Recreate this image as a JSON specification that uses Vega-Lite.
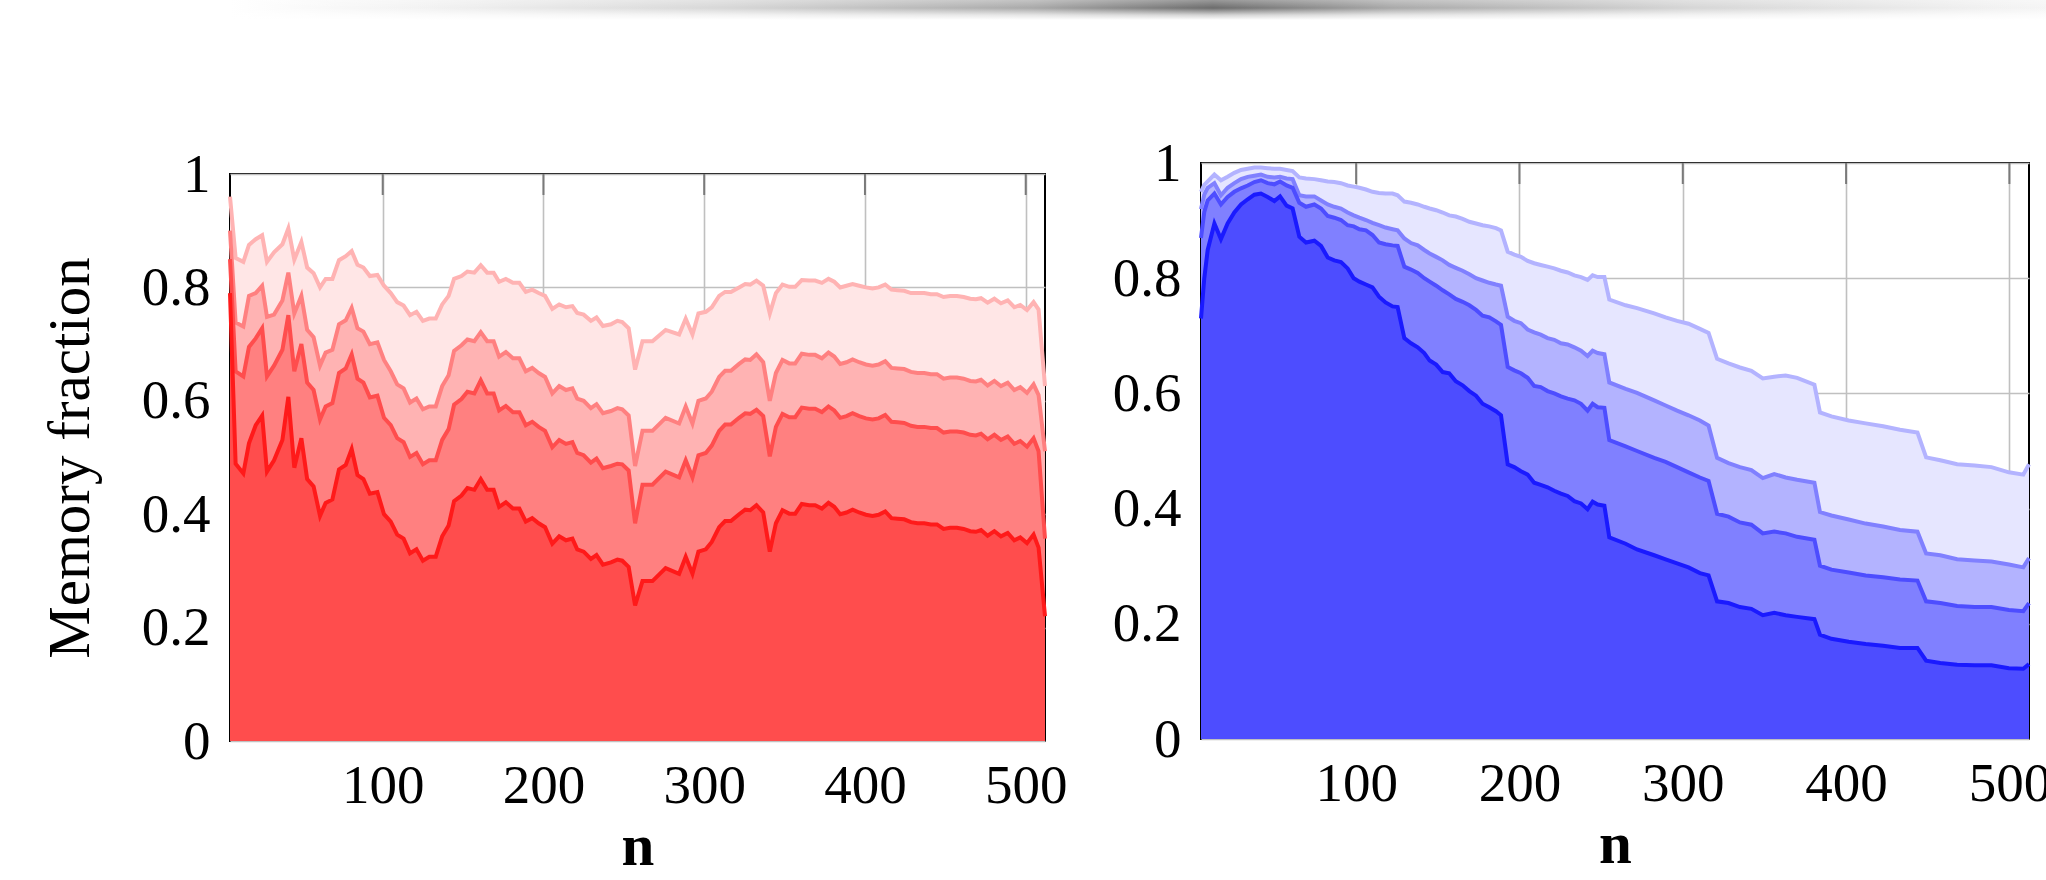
{
"$schema": "https://vega.github.io/schema/vega-lite/v6.json",
"padding": {"left": 40, "top": 0, "right": 0, "bottom": 0},
"background": "white",
"config": {
  "font": "Liberation Serif",
  "view": {"stroke": "#000000", "strokeWidth": 2},
  "axis": {"labelFont": "Liberation Serif", "labelFontSize": 55, "labelColor": "#000000", "titleFont": "Liberation Serif", "titleFontSize": 59, "titleColor": "#000000", "titleFontWeight": "normal", "gridColor": "#c0c0c0", "gridWidth": 1.6, "gridOpacity": 1, "domain": false, "ticks": false, "labelFlush": false, "labelOverlap": false},
  "axisX": {"labelPadding": 18, "titlePadding": 4, "titleFontWeight": "bold"},
  "axisY": {"labelPadding": 20, "titlePadding": 41}
},
"datasets": {
"xt": [{"t":100},{"t":200},{"t":300},{"t":400},{"t":500}],
"yt": [{"v":0.2},{"v":0.4},{"v":0.6},{"v":0.8}],
"red": [
{"n":5,"a":0.79,"b":0.85,"c":0.90,"d":0.96},
{"n":8.5,"a":0.489,"b":0.652,"c":0.738,"d":0.852},
{"n":13.3,"a":0.472,"b":0.643,"c":0.731,"d":0.845},
{"n":16.8,"a":0.525,"b":0.695,"c":0.785,"d":0.875},
{"n":21,"a":0.557,"b":0.71,"c":0.79,"d":0.885},
{"n":25,"a":0.574,"b":0.728,"c":0.803,"d":0.892},
{"n":28,"a":0.475,"b":0.643,"c":0.748,"d":0.845},
{"n":32.4,"a":0.495,"b":0.662,"c":0.752,"d":0.862},
{"n":37.6,"a":0.531,"b":0.69,"c":0.777,"d":0.876},
{"n":41.3,"a":0.607,"b":0.751,"c":0.826,"d":0.904},
{"n":45,"a":0.482,"b":0.652,"c":0.754,"d":0.849},
{"n":49.4,"a":0.534,"b":0.70,"c":0.785,"d":0.88},
{"n":53,"a":0.462,"b":0.632,"c":0.725,"d":0.835},
{"n":57,"a":0.449,"b":0.619,"c":0.712,"d":0.825},
{"n":61,"a":0.397,"b":0.567,"c":0.662,"d":0.80},
{"n":64.5,"a":0.42,"b":0.59,"c":0.685,"d":0.815},
{"n":68.7,"a":0.426,"b":0.596,"c":0.69,"d":0.815},
{"n":72.8,"a":0.479,"b":0.649,"c":0.735,"d":0.848},
{"n":77,"a":0.487,"b":0.657,"c":0.742,"d":0.855},
{"n":80.7,"a":0.515,"b":0.682,"c":0.764,"d":0.864},
{"n":84.3,"a":0.469,"b":0.639,"c":0.728,"d":0.84},
{"n":88,"a":0.462,"b":0.632,"c":0.722,"d":0.835},
{"n":92,"a":0.436,"b":0.606,"c":0.70,"d":0.82},
{"n":96.7,"a":0.439,"b":0.609,"c":0.703,"d":0.822},
{"n":100.8,"a":0.40,"b":0.57,"c":0.672,"d":0.803},
{"n":105,"a":0.387,"b":0.557,"c":0.652,"d":0.79},
{"n":109,"a":0.364,"b":0.534,"c":0.629,"d":0.774},
{"n":113,"a":0.357,"b":0.527,"c":0.622,"d":0.768},
{"n":117,"a":0.331,"b":0.501,"c":0.597,"d":0.751},
{"n":121,"a":0.338,"b":0.508,"c":0.604,"d":0.757},
{"n":125,"a":0.318,"b":0.488,"c":0.585,"d":0.741},
{"n":129,"a":0.325,"b":0.495,"c":0.59,"d":0.745},
{"n":133,"a":0.325,"b":0.495,"c":0.59,"d":0.745},
{"n":137,"a":0.361,"b":0.531,"c":0.626,"d":0.77},
{"n":141,"a":0.38,"b":0.55,"c":0.645,"d":0.785},
{"n":144.4,"a":0.423,"b":0.593,"c":0.688,"d":0.815},
{"n":149,"a":0.433,"b":0.603,"c":0.698,"d":0.82},
{"n":152.7,"a":0.446,"b":0.616,"c":0.708,"d":0.828},
{"n":157,"a":0.443,"b":0.613,"c":0.705,"d":0.826},
{"n":161,"a":0.462,"b":0.636,"c":0.721,"d":0.839},
{"n":165,"a":0.443,"b":0.613,"c":0.705,"d":0.826},
{"n":169,"a":0.443,"b":0.613,"c":0.705,"d":0.826},
{"n":172.4,"a":0.413,"b":0.583,"c":0.678,"d":0.81},
{"n":176.6,"a":0.421,"b":0.591,"c":0.686,"d":0.815},
{"n":181,"a":0.41,"b":0.58,"c":0.675,"d":0.808},
{"n":185,"a":0.41,"b":0.58,"c":0.675,"d":0.808},
{"n":189,"a":0.387,"b":0.557,"c":0.652,"d":0.792},
{"n":193,"a":0.393,"b":0.563,"c":0.658,"d":0.796},
{"n":197,"a":0.384,"b":0.554,"c":0.649,"d":0.79},
{"n":201,"a":0.377,"b":0.547,"c":0.642,"d":0.785},
{"n":205.5,"a":0.348,"b":0.518,"c":0.613,"d":0.762},
{"n":209.8,"a":0.361,"b":0.531,"c":0.626,"d":0.77},
{"n":214,"a":0.354,"b":0.524,"c":0.619,"d":0.765},
{"n":218,"a":0.357,"b":0.527,"c":0.622,"d":0.767},
{"n":221,"a":0.338,"b":0.508,"c":0.604,"d":0.755},
{"n":225,"a":0.334,"b":0.504,"c":0.60,"d":0.752},
{"n":229.5,"a":0.321,"b":0.491,"c":0.587,"d":0.741},
{"n":233,"a":0.328,"b":0.498,"c":0.594,"d":0.747},
{"n":237,"a":0.311,"b":0.481,"c":0.578,"d":0.732},
{"n":242,"a":0.315,"b":0.485,"c":0.582,"d":0.735},
{"n":246,"a":0.32,"b":0.489,"c":0.587,"d":0.741},
{"n":249,"a":0.318,"b":0.488,"c":0.585,"d":0.739},
{"n":253,"a":0.307,"b":0.477,"c":0.574,"d":0.728},
{"n":257,"a":0.239,"b":0.384,"c":0.485,"d":0.655},
{"n":261.6,"a":0.282,"b":0.452,"c":0.547,"d":0.705},
{"n":267.8,"a":0.282,"b":0.452,"c":0.547,"d":0.705},
{"n":276,"a":0.305,"b":0.475,"c":0.57,"d":0.725},
{"n":284.4,"a":0.295,"b":0.465,"c":0.56,"d":0.717},
{"n":288.5,"a":0.325,"b":0.495,"c":0.59,"d":0.745},
{"n":292.7,"a":0.295,"b":0.465,"c":0.56,"d":0.717},
{"n":296.4,"a":0.334,"b":0.504,"c":0.60,"d":0.754},
{"n":301,"a":0.338,"b":0.508,"c":0.604,"d":0.757},
{"n":304.7,"a":0.351,"b":0.521,"c":0.616,"d":0.765},
{"n":309.3,"a":0.377,"b":0.547,"c":0.642,"d":0.785},
{"n":313,"a":0.388,"b":0.558,"c":0.653,"d":0.792},
{"n":316.6,"a":0.388,"b":0.558,"c":0.653,"d":0.792},
{"n":321.7,"a":0.40,"b":0.57,"c":0.665,"d":0.80},
{"n":325.5,"a":0.408,"b":0.578,"c":0.673,"d":0.806},
{"n":328.6,"a":0.407,"b":0.577,"c":0.672,"d":0.805},
{"n":332.5,"a":0.416,"b":0.584,"c":0.682,"d":0.812},
{"n":336.7,"a":0.403,"b":0.573,"c":0.668,"d":0.803},
{"n":340.8,"a":0.334,"b":0.502,"c":0.60,"d":0.754},
{"n":344.6,"a":0.384,"b":0.554,"c":0.649,"d":0.79},
{"n":348.7,"a":0.407,"b":0.577,"c":0.672,"d":0.805},
{"n":352.9,"a":0.401,"b":0.571,"c":0.666,"d":0.801},
{"n":356.6,"a":0.401,"b":0.571,"c":0.666,"d":0.801},
{"n":360.7,"a":0.418,"b":0.588,"c":0.683,"d":0.813},
{"n":365.3,"a":0.416,"b":0.586,"c":0.681,"d":0.812},
{"n":369,"a":0.416,"b":0.586,"c":0.681,"d":0.812},
{"n":373.2,"a":0.41,"b":0.58,"c":0.675,"d":0.808},
{"n":377.3,"a":0.42,"b":0.59,"c":0.685,"d":0.815},
{"n":380.9,"a":0.413,"b":0.583,"c":0.678,"d":0.81},
{"n":384.6,"a":0.40,"b":0.57,"c":0.665,"d":0.80},
{"n":388.5,"a":0.403,"b":0.573,"c":0.668,"d":0.803},
{"n":392.3,"a":0.408,"b":0.578,"c":0.673,"d":0.806},
{"n":396.4,"a":0.403,"b":0.573,"c":0.668,"d":0.803},
{"n":400.6,"a":0.399,"b":0.569,"c":0.664,"d":0.80},
{"n":404.7,"a":0.397,"b":0.567,"c":0.662,"d":0.798},
{"n":408.5,"a":0.399,"b":0.569,"c":0.664,"d":0.80},
{"n":412.6,"a":0.405,"b":0.575,"c":0.67,"d":0.805},
{"n":416.5,"a":0.393,"b":0.563,"c":0.658,"d":0.796},
{"n":420.3,"a":0.392,"b":0.562,"c":0.657,"d":0.795},
{"n":424.4,"a":0.391,"b":0.561,"c":0.656,"d":0.794},
{"n":428.6,"a":0.386,"b":0.556,"c":0.651,"d":0.79},
{"n":432.7,"a":0.384,"b":0.554,"c":0.649,"d":0.79},
{"n":436.9,"a":0.384,"b":0.554,"c":0.649,"d":0.79},
{"n":441,"a":0.382,"b":0.552,"c":0.647,"d":0.788},
{"n":444.8,"a":0.382,"b":0.552,"c":0.647,"d":0.788},
{"n":448.9,"a":0.374,"b":0.544,"c":0.639,"d":0.783},
{"n":453,"a":0.376,"b":0.546,"c":0.641,"d":0.785},
{"n":457.2,"a":0.376,"b":0.546,"c":0.641,"d":0.785},
{"n":461.4,"a":0.374,"b":0.544,"c":0.639,"d":0.783},
{"n":465.5,"a":0.37,"b":0.54,"c":0.635,"d":0.78},
{"n":469,"a":0.369,"b":0.539,"c":0.634,"d":0.779},
{"n":472.2,"a":0.372,"b":0.542,"c":0.637,"d":0.781},
{"n":476.3,"a":0.362,"b":0.532,"c":0.627,"d":0.773},
{"n":480.5,"a":0.37,"b":0.54,"c":0.635,"d":0.78},
{"n":484.6,"a":0.361,"b":0.531,"c":0.626,"d":0.772},
{"n":488.8,"a":0.367,"b":0.537,"c":0.632,"d":0.777},
{"n":492.9,"a":0.354,"b":0.524,"c":0.619,"d":0.765},
{"n":496.6,"a":0.359,"b":0.529,"c":0.624,"d":0.769},
{"n":500.8,"a":0.349,"b":0.519,"c":0.614,"d":0.76},
{"n":504.9,"a":0.364,"b":0.534,"c":0.629,"d":0.774},
{"n":508,"a":0.341,"b":0.511,"c":0.61,"d":0.761},
{"n":512,"a":0.22,"b":0.357,"c":0.511,"d":0.626}
],
"blue": [
{"n":5,"a":0.73,"b":0.87,"c":0.92,"d":0.95},
{"n":7,"a":0.80,"b":0.915,"c":0.945,"d":0.962},
{"n":9.1,"a":0.849,"b":0.935,"c":0.957,"d":0.968},
{"n":13.2,"a":0.895,"b":0.947,"c":0.965,"d":0.98},
{"n":17.2,"a":0.868,"b":0.928,"c":0.944,"d":0.97},
{"n":21.3,"a":0.895,"b":0.941,"c":0.957,"d":0.976},
{"n":25.4,"a":0.914,"b":0.95,"c":0.965,"d":0.983},
{"n":29.5,"a":0.928,"b":0.956,"c":0.972,"d":0.988},
{"n":33.6,"a":0.937,"b":0.961,"c":0.976,"d":0.99},
{"n":37.7,"a":0.945,"b":0.967,"c":0.978,"d":0.992},
{"n":41.7,"a":0.947,"b":0.97,"c":0.98,"d":0.992},
{"n":45.8,"a":0.941,"b":0.965,"c":0.976,"d":0.991},
{"n":49.9,"a":0.934,"b":0.963,"c":0.975,"d":0.99},
{"n":53.4,"a":0.942,"b":0.968,"c":0.976,"d":0.99},
{"n":57.4,"a":0.926,"b":0.961,"c":0.973,"d":0.988},
{"n":61.1,"a":0.921,"b":0.957,"c":0.972,"d":0.986},
{"n":65.2,"a":0.872,"b":0.931,"c":0.944,"d":0.975},
{"n":69.3,"a":0.862,"b":0.924,"c":0.942,"d":0.973},
{"n":74.4,"a":0.865,"b":0.928,"c":0.942,"d":0.972},
{"n":78.5,"a":0.856,"b":0.921,"c":0.935,"d":0.97},
{"n":82.6,"a":0.836,"b":0.908,"c":0.928,"d":0.968},
{"n":86.6,"a":0.831,"b":0.905,"c":0.924,"d":0.967},
{"n":90.7,"a":0.828,"b":0.901,"c":0.921,"d":0.965},
{"n":94.8,"a":0.817,"b":0.892,"c":0.914,"d":0.961},
{"n":98.5,"a":0.80,"b":0.89,"c":0.909,"d":0.959},
{"n":102,"a":0.794,"b":0.885,"c":0.905,"d":0.957},
{"n":106,"a":0.789,"b":0.883,"c":0.901,"d":0.954},
{"n":110,"a":0.784,"b":0.875,"c":0.896,"d":0.95},
{"n":114,"a":0.768,"b":0.862,"c":0.892,"d":0.948},
{"n":118,"a":0.758,"b":0.859,"c":0.888,"d":0.947},
{"n":122.3,"a":0.751,"b":0.857,"c":0.885,"d":0.947},
{"n":125.4,"a":0.75,"b":0.856,"c":0.883,"d":0.944},
{"n":129.5,"a":0.696,"b":0.82,"c":0.869,"d":0.933},
{"n":133.6,"a":0.687,"b":0.815,"c":0.861,"d":0.931},
{"n":137.7,"a":0.68,"b":0.809,"c":0.857,"d":0.928},
{"n":141.7,"a":0.67,"b":0.80,"c":0.849,"d":0.924},
{"n":145,"a":0.657,"b":0.794,"c":0.843,"d":0.921},
{"n":149,"a":0.65,"b":0.787,"c":0.837,"d":0.918},
{"n":153,"a":0.637,"b":0.779,"c":0.831,"d":0.914},
{"n":157,"a":0.635,"b":0.772,"c":0.823,"d":0.909},
{"n":161,"a":0.621,"b":0.764,"c":0.818,"d":0.907},
{"n":165.2,"a":0.614,"b":0.759,"c":0.813,"d":0.903},
{"n":169.3,"a":0.604,"b":0.753,"c":0.807,"d":0.898},
{"n":173.4,"a":0.596,"b":0.745,"c":0.80,"d":0.895},
{"n":177.4,"a":0.582,"b":0.735,"c":0.796,"d":0.892},
{"n":181.5,"a":0.576,"b":0.732,"c":0.792,"d":0.89},
{"n":185.6,"a":0.569,"b":0.725,"c":0.789,"d":0.887},
{"n":188.7,"a":0.562,"b":0.719,"c":0.787,"d":0.883},
{"n":192.8,"a":0.477,"b":0.646,"c":0.733,"d":0.846},
{"n":196.8,"a":0.472,"b":0.64,"c":0.726,"d":0.841},
{"n":200.9,"a":0.465,"b":0.635,"c":0.722,"d":0.837},
{"n":205,"a":0.459,"b":0.627,"c":0.711,"d":0.83},
{"n":209,"a":0.445,"b":0.613,"c":0.706,"d":0.826},
{"n":213,"a":0.441,"b":0.611,"c":0.702,"d":0.823},
{"n":217.2,"a":0.437,"b":0.604,"c":0.696,"d":0.82},
{"n":221.3,"a":0.431,"b":0.60,"c":0.693,"d":0.817},
{"n":225.4,"a":0.426,"b":0.595,"c":0.687,"d":0.813},
{"n":229.5,"a":0.422,"b":0.591,"c":0.685,"d":0.81},
{"n":233.6,"a":0.413,"b":0.588,"c":0.68,"d":0.805},
{"n":237.7,"a":0.409,"b":0.582,"c":0.674,"d":0.802},
{"n":241.7,"a":0.399,"b":0.57,"c":0.665,"d":0.797},
{"n":244.8,"a":0.412,"b":0.582,"c":0.674,"d":0.805},
{"n":247.9,"a":0.407,"b":0.576,"c":0.67,"d":0.802},
{"n":252,"a":0.405,"b":0.575,"c":0.668,"d":0.802},
{"n":255,"a":0.35,"b":0.519,"c":0.619,"d":0.763},
{"n":265,"a":0.339,"b":0.508,"c":0.608,"d":0.753},
{"n":272,"a":0.329,"b":0.50,"c":0.601,"d":0.748},
{"n":282.5,"a":0.319,"b":0.488,"c":0.588,"d":0.739},
{"n":289.5,"a":0.312,"b":0.481,"c":0.579,"d":0.732},
{"n":296.5,"a":0.305,"b":0.472,"c":0.57,"d":0.726},
{"n":303.5,"a":0.298,"b":0.463,"c":0.562,"d":0.721},
{"n":310.5,"a":0.288,"b":0.454,"c":0.553,"d":0.712},
{"n":315.8,"a":0.284,"b":0.448,"c":0.544,"d":0.705},
{"n":321,"a":0.239,"b":0.391,"c":0.488,"d":0.66},
{"n":328,"a":0.236,"b":0.386,"c":0.479,"d":0.652},
{"n":335,"a":0.229,"b":0.376,"c":0.472,"d":0.645},
{"n":342,"a":0.226,"b":0.372,"c":0.467,"d":0.639},
{"n":349,"a":0.215,"b":0.357,"c":0.453,"d":0.626},
{"n":356,"a":0.219,"b":0.36,"c":0.46,"d":0.629},
{"n":363,"a":0.215,"b":0.357,"c":0.454,"d":0.631},
{"n":370,"a":0.212,"b":0.351,"c":0.45,"d":0.627},
{"n":380.6,"a":0.208,"b":0.346,"c":0.445,"d":0.615},
{"n":384,"a":0.181,"b":0.301,"c":0.394,"d":0.567},
{"n":391,"a":0.174,"b":0.294,"c":0.388,"d":0.56},
{"n":401.6,"a":0.169,"b":0.289,"c":0.381,"d":0.553},
{"n":412,"a":0.165,"b":0.284,"c":0.374,"d":0.548},
{"n":422.7,"a":0.162,"b":0.281,"c":0.369,"d":0.543},
{"n":433,"a":0.158,"b":0.277,"c":0.363,"d":0.537},
{"n":443.7,"a":0.158,"b":0.275,"c":0.36,"d":0.532},
{"n":449,"a":0.136,"b":0.239,"c":0.322,"d":0.489},
{"n":457.7,"a":0.132,"b":0.236,"c":0.319,"d":0.484},
{"n":468,"a":0.129,"b":0.231,"c":0.312,"d":0.477},
{"n":478.7,"a":0.128,"b":0.229,"c":0.31,"d":0.475},
{"n":489,"a":0.128,"b":0.229,"c":0.308,"d":0.472},
{"n":499.7,"a":0.123,"b":0.224,"c":0.303,"d":0.463},
{"n":508.5,"a":0.122,"b":0.222,"c":0.298,"d":0.459},
{"n":512,"a":0.13,"b":0.236,"c":0.314,"d":0.477}
]
},
"spacing": 114,
"vconcat": [
  {
    "width": 2006, "height": 20,
    "view": {"stroke": null},
    "data": {"values": [{}]},
    "layer": [
      {"mark": {"type": "rect", "fill": {"gradient": "linear", "x1": 0, "y1": 0, "x2": 1, "y2": 0, "stops": [{"offset": 0, "color": "#ffffff"}, {"offset": 0.1, "color": "#f2f2f2"}, {"offset": 0.25, "color": "#d6d6d6"}, {"offset": 0.4, "color": "#a9a9a9"}, {"offset": 0.49, "color": "#6c6c6c"}, {"offset": 0.58, "color": "#a9a9a9"}, {"offset": 0.73, "color": "#d6d6d6"}, {"offset": 0.88, "color": "#f2f2f2"}, {"offset": 1, "color": "#ffffff"}]}}},
      {"mark": {"type": "rect", "fill": {"gradient": "linear", "x1": 0, "y1": 0, "x2": 0, "y2": 1, "stops": [{"offset": 0, "color": "rgba(255,255,255,0.3)"}, {"offset": 0.4, "color": "rgba(255,255,255,0)"}, {"offset": 0.75, "color": "rgba(255,255,255,0.7)"}, {"offset": 1, "color": "rgba(255,255,255,1)"}]}}}
    ]
  },
  {
    "spacing": 43,
    "hconcat": [
      {
        "spacing": 0,
        "vconcat": [
          {"width": 10, "height": 12, "view": {"stroke": null}, "data": {"values": []}, "mark": "point"},
          {
            "width": 815, "height": 567,
            "data": {"name": "red"},
            "encoding": {"x": {"field": "n", "type": "quantitative", "title": "n", "scale": {"domain": [5, 512], "nice": false, "zero": false}, "axis": {"values": [100, 200, 300, 400, 500], "format": "d", "grid": true}}},
            "layer": [
              {"data": {"name": "xt"}, "mark": {"type": "rule", "color": "#7a7a7a", "strokeWidth": 2}, "encoding": {"x": {"field": "t", "type": "quantitative", "title": "n"}, "y": {"datum": 1, "title": "Memory fraction"}, "y2": {"datum": 0.963}}},
              {"data": {"name": "yt"}, "mark": {"type": "rule", "color": "#7a7a7a", "strokeWidth": 2}, "encoding": {"y": {"field": "v", "type": "quantitative", "title": "Memory fraction"}, "x": {"datum": 512, "title": "n"}, "x2": {"datum": 499}}},
              {"mark": {"type": "area", "color": "#ffe6e6"}, "encoding": {"y": {"field": "d", "type": "quantitative", "title": "Memory fraction", "scale": {"domain": [0, 1], "nice": false}, "axis": {"values": [0, 0.2, 0.4, 0.6, 0.8, 1], "format": "~g", "grid": true}}}},
              {"mark": {"type": "area", "color": "#ffb3b3"}, "encoding": {"y": {"field": "c", "type": "quantitative", "title": "Memory fraction"}}},
              {"mark": {"type": "area", "color": "#ff8080"}, "encoding": {"y": {"field": "b", "type": "quantitative", "title": "Memory fraction"}}},
              {"mark": {"type": "area", "color": "#ff4d4d"}, "encoding": {"y": {"field": "a", "type": "quantitative", "title": "Memory fraction"}}},
              {"mark": {"type": "line", "color": "#ffb3b3", "strokeWidth": 4}, "encoding": {"y": {"field": "d", "type": "quantitative", "title": "Memory fraction"}}},
              {"mark": {"type": "line", "color": "#ff8080", "strokeWidth": 4}, "encoding": {"y": {"field": "c", "type": "quantitative", "title": "Memory fraction"}}},
              {"mark": {"type": "line", "color": "#ff4d4d", "strokeWidth": 4}, "encoding": {"y": {"field": "b", "type": "quantitative", "title": "Memory fraction"}}},
              {"mark": {"type": "line", "color": "#ff1a1a", "strokeWidth": 4}, "encoding": {"y": {"field": "a", "type": "quantitative", "title": "Memory fraction"}}}
            ]
          }
        ]
      },
      {
        "spacing": 0,
        "vconcat": [
          {"width": 10, "height": 1, "view": {"stroke": null}, "data": {"values": []}, "mark": "point"},
          {
            "width": 828, "height": 576,
            "data": {"name": "blue"},
            "encoding": {"x": {"field": "n", "type": "quantitative", "title": "n", "scale": {"domain": [5, 512], "nice": false, "zero": false}, "axis": {"values": [100, 200, 300, 400, 500], "format": "d", "grid": true}}},
            "layer": [
              {"data": {"name": "xt"}, "mark": {"type": "rule", "color": "#7a7a7a", "strokeWidth": 2}, "encoding": {"x": {"field": "t", "type": "quantitative", "title": "n"}, "y": {"datum": 1, "title": null}, "y2": {"datum": 0.9635}}},
              {"data": {"name": "yt"}, "mark": {"type": "rule", "color": "#7a7a7a", "strokeWidth": 2}, "encoding": {"y": {"field": "v", "type": "quantitative", "title": null}, "x": {"datum": 512, "title": "n"}, "x2": {"datum": 499.1}}},
              {"mark": {"type": "area", "color": "#e6e6ff"}, "encoding": {"y": {"field": "d", "type": "quantitative", "title": null, "scale": {"domain": [0, 1], "nice": false}, "axis": {"values": [0, 0.2, 0.4, 0.6, 0.8, 1], "format": "~g", "grid": true}}}},
              {"mark": {"type": "area", "color": "#b3b3ff"}, "encoding": {"y": {"field": "c", "type": "quantitative", "title": null}}},
              {"mark": {"type": "area", "color": "#8080ff"}, "encoding": {"y": {"field": "b", "type": "quantitative", "title": null}}},
              {"mark": {"type": "area", "color": "#4d4dff"}, "encoding": {"y": {"field": "a", "type": "quantitative", "title": null}}},
              {"mark": {"type": "line", "color": "#b3b3ff", "strokeWidth": 4}, "encoding": {"y": {"field": "d", "type": "quantitative", "title": null}}},
              {"mark": {"type": "line", "color": "#8080ff", "strokeWidth": 4}, "encoding": {"y": {"field": "c", "type": "quantitative", "title": null}}},
              {"mark": {"type": "line", "color": "#4d4dff", "strokeWidth": 4}, "encoding": {"y": {"field": "b", "type": "quantitative", "title": null}}},
              {"mark": {"type": "line", "color": "#1a1aff", "strokeWidth": 4}, "encoding": {"y": {"field": "a", "type": "quantitative", "title": null}}}
            ]
          }
        ]
      }
    ]
  }
]
}
